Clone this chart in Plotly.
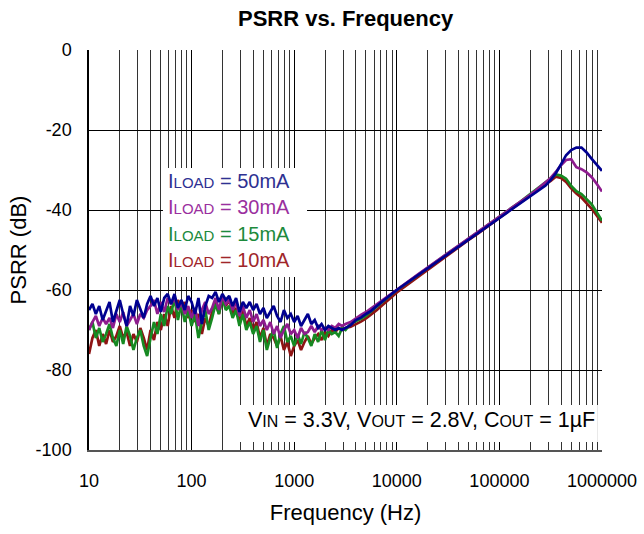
import plotly.graph_objects as go

# ---------------- data ----------------
FREQ_HZ = [
    10, 10.8, 11.66, 12.59, 13.59, 14.68, 15.85, 17.11, 18.48, 19.95,
    21.54, 23.26, 25.12, 27.12, 29.29, 31.62, 34.15, 36.87, 39.81, 42.99,
    46.42, 50.12, 54.12, 58.43, 63.1, 68.13, 73.56, 79.43, 85.77, 92.61,
    100, 108, 116.6, 125.9, 135.9, 146.8, 158.5, 171.1, 184.8, 199.5,
    215.4, 232.6, 251.2, 271.2, 292.9, 316.2, 341.5, 368.7, 398.1, 429.9,
    464.2, 501.2, 541.2, 584.3, 631, 681.3, 735.6, 794.3, 857.7, 926.1,
    1000, 1080, 1166, 1259, 1359, 1468, 1585, 1711, 1848, 1995,
    2154, 2326, 2512, 2712, 2929, 3162,
    3548, 3981, 4467, 5012, 5623, 6310, 7079, 7943, 8913, 10000,
    12589, 15849, 19953, 25119, 31623, 39811, 50119, 63096, 79433, 100000,
    125893, 158489, 199526, 223872, 251189, 281838, 316228, 354813, 398107, 446684,
    501187, 562341, 630957, 707946, 794328, 891251, 1000000,
]

PSRR_50MA = [
    -65, -63.5, -66, -64, -67.5, -65,
    -63, -68, -65.5, -62.5, -66, -69,
    -64, -66.5, -62.5, -65, -67, -63.5,
    -61.5, -64, -62, -65.5, -62, -61,
    -63.5, -61, -64.5, -62.5, -65, -61.5,
    -63, -66, -62, -68.5, -64, -61.5,
    -62, -60.5, -63, -61, -62.5, -61.5,
    -64, -62, -65.5, -63, -64.5, -63,
    -65, -63.5, -66, -64.5, -67, -65.5,
    -64, -66.5, -68, -65, -67, -66,
    -68, -66.5, -69, -67.5, -66, -68.5,
    -67.5, -69.5, -68.5, -70, -69, -69.5,
    -70, -69.5, -70, -69.5,
    -68.8, -67.5, -66.9, -66.0, -65.2, -64.1, -63.0, -62.0, -61.0, -60.0,
    -58.2, -56.3, -54.5, -52.7, -50.9, -49.1, -47.3, -45.6, -43.8, -42.0,
    -40.3, -38.5, -36.7, -35.8, -34.9, -33.9, -32.5, -30.8, -28.6, -26.3,
    -25.0, -24.4, -24.4, -25.6, -27.2, -28.7, -30.2,
]

PSRR_30MA = [
    -70, -68, -66.5, -69, -67, -68.5,
    -67, -69.5, -66, -68, -65.5, -69,
    -67.5, -66, -68.5, -66, -67, -65,
    -64, -62.5, -66, -63, -65.5, -62,
    -63.5, -62, -65, -63, -66, -64,
    -67, -64.5, -69, -65, -63, -66,
    -64.5, -62, -65, -61.5, -63.5, -62.5,
    -65, -63, -66.5, -64, -67, -65,
    -68, -66, -69, -67.5, -70, -68,
    -71, -69, -72, -70, -68.5, -71,
    -70, -72, -69.5, -71, -70.5, -69,
    -70.5, -69, -70, -69.5, -70, -69,
    -69.5, -68.5, -69, -68.5,
    -68.0, -67.0, -66.2, -65.5, -64.6, -63.7, -62.8, -61.8, -60.9, -59.9,
    -58.1, -56.2, -54.4, -52.6, -50.8, -49.0, -47.2, -45.4, -43.6, -41.8,
    -40.0, -38.2, -36.2, -35.2, -34.2, -33.2, -32.0, -30.5, -28.8, -27.5,
    -27.3, -29.3, -29.8, -30.6, -31.8, -33.5, -35.4,
]

PSRR_15MA = [
    -70, -68, -72, -69.5, -73, -71,
    -68.5, -72, -74, -70, -73.5, -69,
    -71.5, -75, -72, -70, -74, -76.5,
    -72, -68, -71, -66, -69, -64,
    -66, -62, -67.5, -63.5, -68, -65,
    -69, -66, -72, -68, -65, -70,
    -67, -63.5, -66, -62, -65, -64,
    -67, -65, -69, -66, -70, -68,
    -71, -69, -73, -70, -75, -72,
    -70, -74.5, -71, -69, -73, -71.5,
    -74, -71, -73.5, -70.5, -72, -74,
    -71, -73, -70, -72.5, -70, -71,
    -70.5, -71.5, -69.5, -70,
    -68.4, -67.9, -67.2, -66.4, -65.4, -64.3, -63.2, -62.1, -61.0, -60.0,
    -58.2, -56.3, -54.5, -52.7, -50.8, -49.0, -47.2, -45.4, -43.5, -41.7,
    -39.9, -38.0, -36.0, -35.0, -34.0, -33.0, -32.1, -31.1, -31.4, -32.2,
    -34.0, -35.3, -36.0, -37.2, -38.6, -40.6, -42.7,
]

PSRR_10MA = [
    -76, -72, -70, -74, -71, -73.5,
    -70, -73, -71.5, -69, -72, -70.5,
    -74, -71, -73, -69.5, -72, -75,
    -70, -72.5, -68, -70, -66, -69,
    -64, -67, -62.5, -65, -63, -67,
    -65, -68, -66, -71, -67, -69,
    -65.5, -63, -66, -61.5, -64, -62.5,
    -66, -64.5, -68, -65, -69, -67,
    -70, -68, -72, -69.5, -74, -71,
    -72, -74, -71.5, -75, -73, -76.5,
    -74, -72.5, -75, -73, -71.5, -73.5,
    -72, -71, -72.5, -70.5, -71.5, -70,
    -70.5, -69.5, -70, -69.5,
    -69.2, -68.6, -67.9, -67.1, -66.2, -65.1, -64.0, -62.9, -61.7, -60.6,
    -58.7, -56.8, -54.9, -53.0, -51.2, -49.4, -47.5, -45.7, -43.8, -42.0,
    -40.2, -38.3, -36.4, -35.4, -34.4, -33.5, -32.7, -31.7, -32.0, -33.0,
    -34.6, -35.9, -36.9, -38.2, -39.7, -41.4, -43.2,
]

SERIES_LABELS = ["50mA", "30mA", "15mA", "10mA"]
X_TICK_VALUES = [10, 100, 1000, 10000, 100000, 1000000]
X_TICK_LABELS = ["10", "100", "1000", "10000", "100000", "1000000"]
Y_TICK_VALUES = [0, -20, -40, -60, -80, -100]
Y_TICK_LABELS = ["0", "-20", "-40", "-60", "-80", "-100"]

# ---------------- styling ----------------
FONT = "Arial, 'Liberation Sans', sans-serif"
COLORS = {"50mA": "#000090", "30mA": "#8E1C8E", "15mA": "#168A22", "10mA": "#8E1414"}
TEXT_COLORS = {"50mA": "#2E3192", "30mA": "#9A2F9E", "15mA": "#1C8A3C", "10mA": "#A0262A"}
series = {"50mA": PSRR_50MA, "30mA": PSRR_30MA, "15mA": PSRR_15MA, "10mA": PSRR_10MA}

fig = go.Figure()
for lab in ["10mA", "15mA", "30mA", "50mA"]:
    fig.add_trace(go.Scatter(
        x=FREQ_HZ, y=series[lab], mode="lines", name=lab,
        line=dict(color=COLORS[lab], width=2.7), showlegend=False,
    ))

minor_vals = [m * 10 ** d for d in range(1, 6) for m in range(2, 10)]

fig.update_layout(
    width=644, height=534,
    margin=dict(l=89, r=42, t=50, b=84),
    paper_bgcolor="white", plot_bgcolor="white",
    font=dict(family=FONT, size=18, color="black"),
    title=dict(text="<b>PSRR vs. Frequency</b>", x=0.5366, xanchor="center",
               y=0.966, yanchor="middle", font=dict(size=22, color="black")),
    xaxis=dict(
        type="log", range=[1, 6], automargin=False,
        tickvals=X_TICK_VALUES, ticktext=X_TICK_LABELS,
        showgrid=True, gridcolor="black", gridwidth=1,
        minor=dict(tickvals=minor_vals, showgrid=True, gridcolor="#333333", gridwidth=1),
        showline=True, linecolor="#555555", linewidth=1.5,
        ticks="", ticklabelstandoff=14,
        tickfont=dict(size=18),
        title=dict(text="Frequency (Hz)", font=dict(size=22), standoff=14),
    ),
    yaxis=dict(
        range=[-100, 0], tickvals=Y_TICK_VALUES, ticktext=Y_TICK_LABELS,
        automargin=False,
        showgrid=True, gridcolor="black", gridwidth=1, zeroline=False,
        showline=True, linecolor="black", linewidth=1.5,
        ticks="", ticklabelstandoff=12,
        tickfont=dict(size=18),
        title=dict(text="PSRR (dB)", font=dict(size=22), standoff=3),
    ),
)

# legend box
fig.add_shape(type="rect", xref="paper", yref="paper",
              x0=0.1442, x1=0.425, y0=0.4325, y1=0.705,
              fillcolor="white", line=dict(width=0), layer="above")
legend_y = [0.6725, 0.6075, 0.54, 0.475]
for lab, yy in zip(SERIES_LABELS, legend_y):
    fig.add_annotation(
        xref="paper", yref="paper", x=0.150, y=yy, xanchor="left", yanchor="middle",
        showarrow=False,
        text=f"I<span style='font-size:15px'>LOAD</span> = {lab}",
        font=dict(size=20, color=TEXT_COLORS[lab]),
    )

# conditions box
fig.add_shape(type="rect", xref="paper", yref="paper",
              x0=0.271, x1=0.992, y0=0.02, y1=0.1125,
              fillcolor="white", line=dict(width=0), layer="above")
fig.add_annotation(
    xref="paper", yref="paper", x=0.99, y=0.075, xanchor="right", yanchor="middle",
    showarrow=False,
    text=("V<span style='font-size:16px'>IN</span> = 3.3V, "
          "V<span style='font-size:16px'>OUT</span> = 2.8V, "
          "C<span style='font-size:16px'>OUT</span> = 1µF"),
    font=dict(size=21.5, color="black"),
)

fig.write_html("out.html", config={"displayModeBar": False},
               post_script="document.body.style.margin='0';")
